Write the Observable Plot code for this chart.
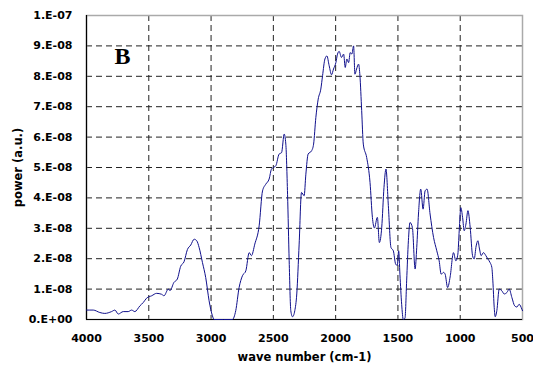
<!DOCTYPE html>
<html>
<head>
<meta charset="utf-8">
<script src="https://cdn.jsdelivr.net/npm/d3@7"></script>
<script src="https://cdn.jsdelivr.net/npm/@observablehq/plot@0.6"></script>
<style>
  html, body { margin: 0; padding: 0; background: #fff; overflow: hidden; }
</style>
</head>
<body>
<div id="chart"></div>
<script>
// wave number (cm-1)
const waveNumber = [4000,3946,3893,3853,3799,3772,3745,3705,3665,3638,3612,3571,3544,3518,3477,3437,3397,3378,3343,3330,3298,3271,3244,3217,3190,3163,3136,3115,3096,3069,3043,3016,2989,2976,2900,2829,2802,2775,2748,2721,2694,2676,2649,2614,2587,2561,2534,2515,2480,2454,2434,2413,2400,2386,2373,2360,2346,2328,2312,2293,2274,2253,2239,2221,2193,2177,2159,2140,2119,2105,2086,2070,2052,2033,2017,1998,1985,1972,1953,1936,1923,1910,1896,1883,1870,1856,1845,1832,1816,1805,1791,1778,1751,1724,1705,1689,1665,1649,1630,1612,1596,1577,1556,1537,1518,1505,1494,1484,1470,1457,1443,1430,1416,1403,1384,1362,1349,1335,1317,1298,1282,1266,1242,1214,1188,1169,1153,1134,1121,1101,1081,1054,1035,1019,1008,995,981,968,954,938,920,901,888,872,858,845,832,813,794,778,760,746,738,727,719,706,687,665,647,625,607,585,563,545,527,505,500];
// power in units of 1e-8 (a.u.)
const power = [0.31,0.31,0.23,0.20,0.26,0.31,0.18,0.26,0.26,0.31,0.26,0.45,0.56,0.70,0.78,0.86,0.83,0.78,1.00,0.95,1.22,1.33,1.75,1.90,2.30,2.45,2.64,2.59,2.37,1.87,1.38,0.62,0.12,0.00,0.00,0.00,0.29,1.05,1.44,1.60,2.20,2.10,2.48,3.08,4.23,4.45,4.62,4.95,5.06,5.44,5.49,6.10,5.77,4.12,1.93,0.29,0.09,0.29,0.84,2.48,4.18,4.07,4.78,5.44,5.55,5.77,6.64,7.25,7.58,8.02,8.57,8.67,8.35,8.05,8.24,8.45,8.73,8.82,8.62,8.73,8.29,8.57,8.45,8.78,8.73,9.00,8.07,8.24,8.40,8.02,6.87,5.77,5.33,4.51,3.36,3.01,3.36,2.53,3.03,4.34,4.95,3.75,2.37,2.26,1.82,1.78,2.26,1.49,0.50,0.00,0.05,1.27,2.59,3.19,3.03,1.66,2.37,3.47,4.29,3.63,4.23,4.29,3.47,2.70,2.26,1.93,1.49,1.55,1.49,1.05,1.40,2.20,1.93,2.15,2.92,3.68,3.36,2.92,3.14,3.58,3.03,2.10,1.99,2.42,2.59,2.32,2.10,2.20,2.10,1.99,1.87,1.71,1.27,0.39,0.09,0.29,1.00,0.94,0.84,0.89,1.00,0.72,0.45,0.41,0.50,0.34,0.29];

const xTicks = [4000,3500,3000,2500,2000,1500,1000,500];
const xTickLabels = ["4000","3500","3000","2500","2000","1500","1000","500"];
const yTicks = [0,1,2,3,4,5,6,7,8,9,10];
const yTickLabels = ["0.E+00","1.E-08","2.E-08","3.E-08","4.E-08","5.E-08","6.E-08","7.E-08","8.E-08","9.E-08","1.E-07"];
const xLabel = "wave number (cm-1)";
const yLabel = "power (a.u.)";
const panelLabel = "B";

const data = waveNumber.map((w, i) => ({w, p: power[i]}));

const gridStyle = {stroke: "#222", strokeOpacity: 1, strokeWidth: 1, strokeDasharray: "6,4"};

const chart = Plot.plot({
  width: 533,
  height: 365,
  marginLeft: 86,
  marginRight: 11,
  marginTop: 15,
  marginBottom: 46,
  style: {fontFamily: "DejaVu Sans", fontSize: "11px", fontWeight: "bold", color: "#000", background: "#fff"},
  x: {domain: [4000, 500]},
  y: {domain: [0, 10]},
  marks: [
    Plot.gridX(xTicks, gridStyle),
    Plot.gridY(yTicks, gridStyle),
    Plot.frame({stroke: "#aaa", strokeWidth: 1.5}),
    Plot.ruleX([4000], {stroke: "#000", strokeWidth: 1.2}),
    Plot.ruleY([0], {stroke: "#000", strokeWidth: 1.2}),
    Plot.line(data, {x: "w", y: "p", stroke: "#10108c", strokeWidth: 1, curve: "monotone-x"}),
    Plot.axisX(xTicks, {tickSize: 0, tickPadding: 15, label: null, tickFormat: d => xTickLabels[xTicks.indexOf(d)]}),
    Plot.axisY(yTicks, {tickSize: 0, tickPadding: 14, label: null, tickFormat: d => yTickLabels[yTicks.indexOf(d)]}),
    Plot.text([panelLabel], {text: d => d, frameAnchor: "top-left", dx: 36, dy: 41, textAnchor: "middle", lineAnchor: "middle", fontFamily: "Liberation Serif", fontSize: 24, fontWeight: "bold", fill: "#000"}),
    Plot.text([xLabel], {text: d => d, frameAnchor: "bottom", dy: 38, textAnchor: "middle", lineAnchor: "middle", fontSize: 11.5, fontWeight: "bold", fill: "#000"}),
    Plot.text([yLabel], {text: d => d, frameAnchor: "left", dx: -68, rotate: -90, textAnchor: "middle", lineAnchor: "middle", fontSize: 11.5, fontWeight: "bold", fill: "#000"})
  ]
});
document.getElementById("chart").appendChild(chart);
</script>
</body>
</html>
